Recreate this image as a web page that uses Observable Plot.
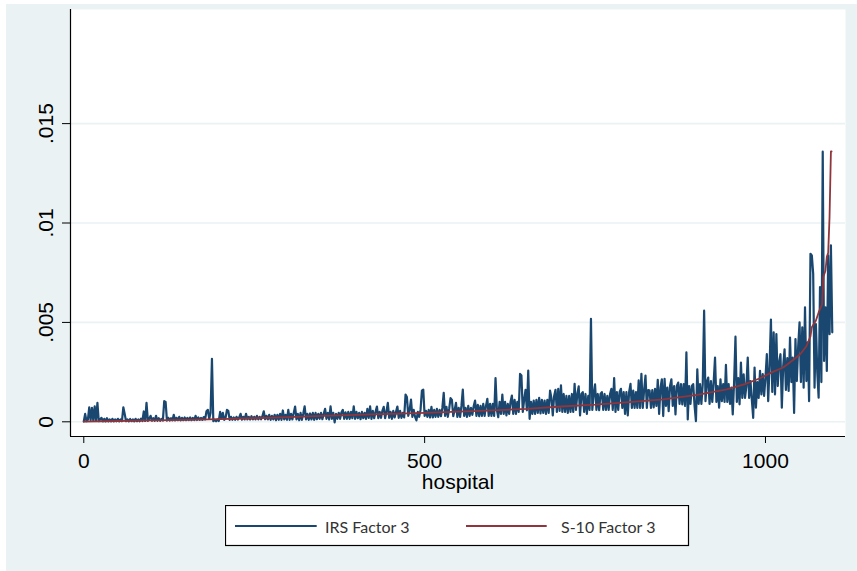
<!DOCTYPE html>
<html>
<head>
<meta charset="utf-8">
<script src="https://cdn.jsdelivr.net/npm/d3@7"></script>
<script src="https://cdn.jsdelivr.net/npm/@observablehq/plot@0.6"></script>
<style>
  html, body { margin: 0; padding: 0; background: #ffffff; }
  body { width: 857px; height: 571px; position: relative; overflow: hidden; }
  #bg { position: absolute; left: 6px; top: 4px; right: 0; bottom: 0; background: #eaf2f3; }
  #chart { position: absolute; left: 0; top: 0; }
  #legend { position: absolute; left: 225px; top: 505px; }
</style>
</head>
<body>
<div id="bg"></div>
<div id="chart"></div>
<div id="legend"></div>
<script>
// ---- data ----
const seriesNames = ["IRS Factor 3", "S-10 Factor 3"];
const seriesColors = ["#1a476f", "#90353b"];

// IRS Factor 3: one value every 2 hospitals (hospital 0, 2, 4, ...), 15 values per row
const irsStep = 2;
const irsValues = [
  0.00002,0.0004,0.00003,0.0001,0.00073,0.00008,0.0007,0.00005,0.00078,0.00004,0.00095,0.00003,0.00012,0.0002,0.00002,
  0.00015,0.00002,0.00018,0.00002,0.00012,0.00002,0.00015,0.00002,0.00012,0.00003,0.00015,0.00002,0.00012,0.00003,0.00073,
  0.0004,0.00003,0.00012,0.00002,0.00014,0.00003,0.00012,0.00002,0.00015,0.00003,0.00012,0.00003,0.00016,0.00004,0.00052,
  0.00004,0.00095,0.00005,0.00015,0.0003,0.00005,0.00018,0.00005,0.0003,0.00005,0.00018,0.00005,0.00015,0.00006,0.00104,
  0.001,0.00006,0.0002,0.00006,0.00018,0.00007,0.00035,0.00007,0.0002,0.00008,0.00025,0.00007,0.0002,0.00008,0.00022,
  0.00008,0.0002,0.00009,0.00022,0.00008,0.0002,0.00009,0.0003,0.00009,0.00022,0.0001,0.0002,0.0001,0.00024,0.00012,
  0.00053,0.0006,0.00015,0.00045,0.00317,0.00003,0.0001,0.00003,0.00012,0.00004,0.0005,0.00015,0.00045,0.0001,0.0002,
  0.0006,0.00055,0.0001,0.00025,0.0001,0.00022,0.0001,0.00025,0.00011,0.00022,0.0004,0.00011,0.00025,0.00012,0.0004,
  0.00012,0.00025,0.00011,0.00028,0.00012,0.00025,0.00012,0.0003,0.00012,0.00025,0.00013,0.00028,0.00053,0.00013,0.0003,
  0.00012,0.00035,0.0001,0.0003,0.00012,0.00035,0.00008,0.00035,0.0001,0.0004,0.0001,0.00057,0.00012,0.00035,0.0001,
  0.0006,0.0001,0.0004,0.00012,0.00045,0.00077,0.00012,0.0004,0.00008,0.00045,0.0001,0.00042,0.00078,0.00012,0.0004,
  0.0001,0.00042,0.00012,0.00045,0.0001,0.00045,0.00013,0.0004,0.00015,0.00045,0.00013,0.0004,0.00065,0.00015,0.00045,
  0.00012,0.00078,0.00015,0.00045,-0.00003,0.0004,0.00015,0.00045,0.00015,0.00048,0.0006,0.00015,0.00048,0.00015,0.0005,
  0.00015,0.0005,0.00018,0.00078,0.00015,0.0005,0.00018,0.00045,0.00013,0.0005,0.00018,0.00045,0.00015,0.00065,0.0002,
  0.00078,0.00015,0.00055,0.00018,0.0005,0.00077,0.00018,0.0005,0.0002,0.00055,0.00075,0.00018,0.0005,0.00095,0.0002,
  0.0005,0.00015,0.00055,0.00022,0.0005,0.00077,0.0002,0.00055,0.0002,0.00045,0.00022,0.00137,0.00125,0.0003,0.0006,
  0.00112,0.00025,0.0006,0.00025,0.00007,0.0005,0.00025,0.0006,0.00157,0.00162,0.0003,0.00055,0.00025,0.0006,0.00022,
  0.00075,0.00022,0.0006,0.00025,0.00065,0.00025,0.0006,0.00028,0.0007,0.00146,0.0003,0.00075,0.00025,0.00065,0.00119,
  0.0011,0.00028,0.0006,0.00095,0.00025,0.0007,0.00025,0.0008,0.00162,0.0003,0.0007,0.00025,0.0008,0.0003,0.0007,
  0.00035,0.0008,0.00107,0.0003,0.00085,0.00028,0.0008,0.0003,0.0009,0.0003,0.0008,0.00116,0.0003,0.0009,0.0003,
  0.0009,0.0003,0.0022,0.0006,0.00023,0.001,0.0004,0.00137,0.0004,0.001,0.00032,0.0009,0.0004,0.001,0.00132,
  0.0004,0.0011,0.0004,0.001,0.0005,0.00241,0.00233,0.0005,0.0011,0.00161,0.00058,0.00258,0.00015,0.001,0.0004,
  0.00107,0.0004,0.0011,0.00045,0.0012,0.00042,0.0011,0.00045,0.00107,0.0004,0.0011,0.00045,0.00157,0.0012,0.00032,
  0.0013,0.00161,0.0005,0.00166,0.00055,0.00183,0.0005,0.0014,0.0005,0.0013,0.00045,0.0013,0.0005,0.0014,0.0005,
  0.00191,0.0006,0.0014,0.00178,0.00032,0.0014,0.00149,0.0005,0.0014,0.0004,0.0013,0.0006,0.00518,0.0006,0.0014,
  0.00188,0.0006,0.0014,0.00058,0.0014,0.00149,0.0006,0.0014,0.0006,0.0013,0.0006,0.0014,0.00166,0.0006,0.0022,
  0.0005,0.0015,0.0006,0.0015,0.00166,0.0007,0.0015,0.0004,0.0015,0.00032,0.0015,0.00191,0.0007,0.00157,0.0007,
  0.0015,0.0007,0.00208,0.0007,0.00241,0.0007,0.0016,0.00233,0.0007,0.0016,0.00157,0.0007,0.0016,0.00072,0.00166,
  0.0008,0.00211,0.0004,0.0017,0.00214,0.00029,0.00216,0.0008,0.00172,0.00054,0.0018,0.00214,0.0008,0.0018,0.00037,
  0.0018,0.00197,0.0009,0.0019,0.00088,0.0019,0.0008,0.00349,0.00012,0.0018,0.0009,0.0018,0.00189,0.0008,0.00003,
  0.00264,0.0009,0.0019,0.0009,0.0019,0.00559,0.00104,0.002,0.00222,0.0009,0.00205,0.001,0.002,0.00323,0.001,
  0.0018,0.00071,0.00214,0.00104,0.0019,0.001,0.00286,0.001,0.0019,0.0009,0.00172,0.00037,0.002,0.00428,0.001,
  0.0022,0.00088,0.00298,0.0012,0.00239,0.0012,0.0018,0.00323,0.0012,0.00205,0.0011,0.0002,0.00273,0.00071,0.002,
  0.0012,0.00256,0.00138,0.0024,0.0013,0.00222,0.0034,0.00104,0.0028,0.00514,0.0015,0.0045,0.00138,0.00441,0.0018,
  0.003,0.0034,0.00071,0.0028,0.00365,0.0016,0.0032,0.00155,0.00424,0.002,0.00323,0.00045,0.00416,0.00205,0.0038,
  0.005,0.002,0.00475,0.00172,0.00576,0.00205,0.004,0.00104,0.00845,0.00837,0.00744,0.00172,0.00492,0.0025,0.00121,
  0.00677,0.002,0.01359,0.00306,0.00576,0.00256,0.00837,0.00441,0.00887,0.0045
];

// S-10 Factor 3 (sorted, smooth)
const s10Hospitals = [0,50,100,150,200,250,300,350,400,450,500,560,600,650,700,750,800,850,900,943,970,992,1010,1026,1040,1051,1060,1066,1068,1074,1078,1083,1085,1088,1090,1092,1094,1096,1097];
const s10Values = [0.00001,0.00004,0.00007,0.0001,0.00013,0.00018,0.00024,0.0003,0.00035,0.0004,0.00045,0.00052,0.00058,0.00065,0.00077,0.00086,0.00099,0.00113,0.00135,0.00163,0.0019,0.00219,0.0025,0.00273,0.0031,0.0034,0.0038,0.0043,0.00476,0.0051,0.0055,0.0059,0.0073,0.0076,0.0083,0.0085,0.0103,0.0136,0.0136];

const xTicks = [0, 500, 1000];
const yTicks = [0, 0.005, 0.01, 0.015];
const yTickLabels = ["0", ".005", ".01", ".015"];
const xLabel = "hospital";

// ---- build ----
const irs = irsValues.map((v, i) => ({hospital: i * irsStep, value: v}));
const s10 = s10Hospitals.map((h, i) => ({hospital: h, value: s10Values[i]}));

const xDomain = [-19.5, 1117.4];
const yDomain = [-0.000739, 0.02074];

const chart = Plot.plot({
  width: 857,
  height: 500,
  marginLeft: 70,
  marginRight: 12,
  marginTop: 9,
  marginBottom: 64,
  style: {background: "transparent", fontFamily: "'Liberation Sans', Arial, sans-serif", fontSize: "21px", color: "#000"},
  x: {domain: xDomain},
  y: {domain: yDomain},
  marks: [
    Plot.frame({fill: "#ffffff", stroke: "none"}),
    Plot.gridY(yTicks, {stroke: "#eaf2f3", strokeOpacity: 1, strokeWidth: 1.6}),
    Plot.line(irs, {x: "hospital", y: "value", stroke: seriesColors[0], strokeWidth: 2.2, strokeLinejoin: "round"}),
    Plot.line(s10, {x: "hospital", y: "value", stroke: seriesColors[1], strokeWidth: 1.8, strokeLinejoin: "round"}),
    Plot.ruleX([xDomain[0]], {stroke: "#000", strokeWidth: 1.2}),
    Plot.ruleY([yDomain[0]], {stroke: "#000", strokeWidth: 1.2}),
    Plot.axisY(yTicks, {tickSize: 8, tickFormat: () => "", label: null, stroke: "#000"}),
    Plot.text(yTicks, {y: d => d, text: (d, i) => yTickLabels[i], frameAnchor: "left", dx: -18, rotate: -90, textAnchor: "middle", lineAnchor: "bottom", fill: "#000", fontSize: 21}),
    Plot.axisX(xTicks, {tickSize: 7, tickPadding: 10, label: null, stroke: "#000", fill: "#000", fontSize: 21, tickFormat: d => String(d)}),
    Plot.text([xLabel], {frameAnchor: "bottom", dy: 52, lineAnchor: "bottom", fill: "#000", fontSize: 21})
  ]
});
document.getElementById("chart").appendChild(chart);

// ---- legend ----
const lg = d3.select("#legend").append("svg").attr("width", 465).attr("height", 42);
lg.append("rect").attr("x", 0.5).attr("y", 0.5).attr("width", 463).attr("height", 40)
  .attr("fill", "#fff").attr("stroke", "#000").attr("stroke-width", 1.2);
const items = [{x1: 10, x2: 91.7, tx: 100}, {x1: 241, x2: 321.7, tx: 336}];
items.forEach((it, i) => {
  lg.append("line").attr("x1", it.x1).attr("x2", it.x2).attr("y1", 21).attr("y2", 21)
    .attr("stroke", seriesColors[i]).attr("stroke-width", 2);
  lg.append("text").attr("x", it.tx).attr("y", 28.3).text(seriesNames[i])
    .attr("font-family", "Lato, 'Open Sans', sans-serif").attr("font-size", 16).attr("fill", "#333");
});
</script>
</body>
</html>
